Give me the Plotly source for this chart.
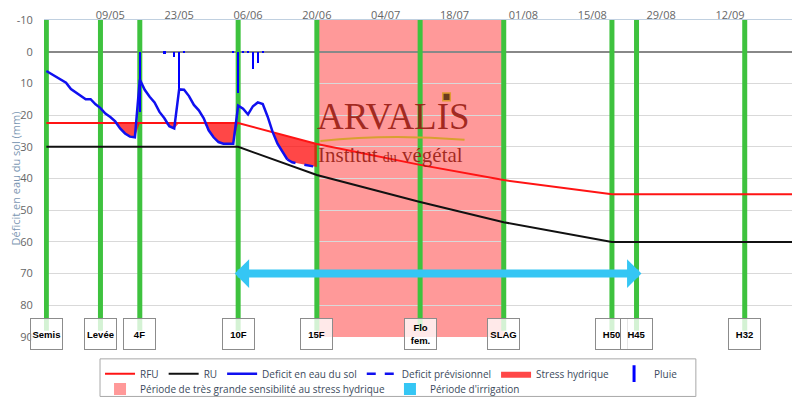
import numpy as np
import pandas as pd
import plotly.graph_objects as go

# ---------------- DATA ----------------
stage_names = ["Semis", "Levée", "4F", "10F", "15F", "Flo<br>fem.", "SLAG", "H50", "H45", "H32"]
stage_dates = ["2015-04-26", "2015-05-07", "2015-05-15", "2015-06-04", "2015-06-20",
               "2015-07-11", "2015-07-28", "2015-08-19", "2015-08-24", "2015-09-15"]

ru_dates = ["2015-04-26", "2015-06-04", "2015-06-20", "2015-07-11", "2015-07-28", "2015-08-19", "2015-09-25"]
ru_values = [30, 30, 38.9, 47.4, 53.8, 60, 60]
rfu_values = [22.5, 22.5, 29.1, 35.7, 40.5, 45, 45]

deficit_start = "2015-04-26"
deficit_values = [6.1, 7.0, 8.0, 8.9, 9.8,                         # 26/04 - 30/04
                  11.8, 12.8, 13.8, 15.0, 15.0, 16.6, 17.8, 19.5,   # 01/05 - 08/05
                  20.6, 22.0, 24.2, 25.8, 26.8, 27.0, 8.8, 12.0,    # 09/05 - 16/05
                  14.2, 16.0, 19.0, 21.0, 23.5, 24.2, 11.9, 12.0,   # 17/05 - 24/05
                  14.0, 16.8, 18.5, 21.0, 24.8, 27.0, 28.5,         # 25/05 - 31/05
                  29.0, 29.0, 29.0, 17.0, 18.0, 19.8, 17.2, 16.0,   # 01/06 - 08/06
                  16.5, 20.5, 25.3, 29.0, 31.4, 34.0]               # 09/06 - 14/06

forecast_start = "2015-06-14"
forecast_values = [34.0, 34.9, 35.2, 35.5, 35.7, 36.0, 36.4]        # 14/06 - 20/06

rain_dates = ["2015-05-15", "2015-05-20", "2015-05-22", "2015-05-23", "2015-05-24",
              "2015-06-03", "2015-06-04", "2015-06-05", "2015-06-06", "2015-06-07",
              "2015-06-08", "2015-06-09"]
rain_values = [19.0, 0.6, 1.6, 12.5, 0.5, 0.5, 13.0, 0.5, 0.5, 5.5, 3.7, 0.5]

sensitive_period = ["2015-06-20", "2015-07-28"]
irrigation_period = ["2015-06-03", "2015-08-25"]
irrigation_level = 70

x_range = ["2015-04-25 12:30", "2015-09-25 05:20"]
y_range = [90, -10]
y_ticks = [-10, 0, 10, 20, 30, 40, 50, 60, 70, 80, 90]
tick_start = "2015-05-09"

# ---------------- STYLE ----------------
C_RFU = "#ff1414"
C_RU = "#111111"
C_DEF = "#1010f0"
C_STRESS = "rgba(255,0,0,0.72)"
C_SENS = "rgba(255,0,0,0.40)"
C_SENS_LEG = "#ff9999"
C_IRR = "#35c6f4"
C_GREEN = "#3ec23e"
FONT = "Open Sans, Liberation Sans, Arial, sans-serif"

def_dates = pd.date_range(deficit_start, periods=len(deficit_values), freq="D")
fc_dates = pd.date_range(forecast_start, periods=len(forecast_values), freq="D")
ru_dt = pd.to_datetime(ru_dates)

# combined deficit for stress computation
all_dates = def_dates.append(fc_dates[1:])
all_vals = np.array(deficit_values + forecast_values[1:])
rfu_at = np.interp(all_dates.asi8, ru_dt.asi8, rfu_values)
upper = np.maximum(all_vals, rfu_at)

fig = go.Figure()

# stress fill (base then upper)
fig.add_trace(go.Scatter(x=all_dates, y=rfu_at, mode="lines", line=dict(width=0),
                         showlegend=False, hoverinfo="skip"))
fig.add_trace(go.Scatter(x=all_dates, y=upper, mode="lines", line=dict(width=0),
                         fill="tonexty", fillcolor=C_STRESS, name="Stress hydrique",
                         legendrank=5))

fig.add_trace(go.Scatter(x=ru_dt, y=ru_values, mode="lines", line=dict(color=C_RU, width=2),
                         name="RU", legendrank=2))
fig.add_trace(go.Scatter(x=ru_dt, y=rfu_values, mode="lines", line=dict(color=C_RFU, width=2),
                         name="RFU", legendrank=1))
fig.add_trace(go.Scatter(x=fc_dates, y=forecast_values, mode="lines",
                         line=dict(color=C_DEF, width=2.5, dash="dash"),
                         name="Deficit prévisionnel", legendrank=4))
fig.add_trace(go.Scatter(x=def_dates, y=deficit_values, mode="lines",
                         line=dict(color=C_DEF, width=2.5),
                         name="Deficit en eau du sol", legendrank=3))
fig.add_trace(go.Bar(x=pd.to_datetime(rain_dates), y=rain_values, base=0,
                     width=0.45 * 86400000, marker=dict(color="#0000ff", line=dict(width=0)),
                     showlegend=False, name="Pluie"))
# legend entries
fig.add_trace(go.Scatter(x=[None], y=[None], mode="markers", name="Pluie", legendrank=6,
                         marker=dict(symbol="line-ns", size=12, line=dict(color="#0000ff", width=3))))
fig.add_trace(go.Scatter(x=[None], y=[None], mode="markers", legendrank=7, legend="legend2",
                         name="Période de très grande sensibilité au stress hydrique",
                         marker=dict(symbol="square", size=12, color=C_SENS_LEG)))
fig.add_trace(go.Scatter(x=[None], y=[None], mode="markers", legendrank=8, legend="legend2",
                         name="Période d'irrigation",
                         marker=dict(symbol="square", size=12, color=C_IRR)))

shapes = [dict(type="rect", xref="x", yref="paper", x0=sensitive_period[0], x1=sensitive_period[1],
               y0=0, y1=1, fillcolor=C_SENS, line=dict(width=0), layer="between")]
for d in stage_dates:
    shapes.append(dict(type="line", xref="x", yref="y", x0=d, x1=d, y0=y_range[1], y1=88,
                       line=dict(color=C_GREEN, width=5), layer="between"))
# logo swoosh and leaf (decoration)
shapes.append(dict(type="path", xref="paper", yref="paper",
                   path="M 0.368,0.618 Q 0.46,0.642 0.560,0.622",
                   line=dict(color="#d9a030", width=2)))
shapes.append(dict(type="rect", xref="paper", yref="paper", x0=0.531, x1=0.541, y0=0.745, y1=0.77,
                   fillcolor="#6b3a1e", line=dict(color="#e09a30", width=1.5)))
# legend frame
shapes.append(dict(type="rect", xref="paper", yref="paper", x0=0.0746, x1=0.868,
                   y0=-0.1875, y1=-0.069, line=dict(color="#a8a8a8", width=1),
                   fillcolor="rgba(0,0,0,0)"))

annotations = []
for name, d in zip(stage_names, stage_dates):
    annotations.append(dict(x=d, y=89.0, xref="x", yref="y", text="<b>" + name + "</b>",
                            showarrow=False, width=31, height=30, borderpad=0,
                            bgcolor="rgba(255,255,255,0.78)", bordercolor="#8c8c8c", borderwidth=1,
                            font=dict(family="Liberation Sans, Arial, sans-serif", size=9.5, color="#000"),
                            xanchor="center", yanchor="middle", valign="middle"))
annotations.append(dict(x=irrigation_period[1], y=irrigation_level, ax=irrigation_period[0],
                        ay=irrigation_level, xref="x", yref="y", axref="x", ayref="y", text="",
                        showarrow=True, arrowhead=1, startarrowhead=1, arrowside="end+start",
                        arrowsize=0.6, startarrowsize=0.6, arrowwidth=8, arrowcolor=C_IRR))
annotations.append(dict(x=0.465, y=0.695, xref="paper", yref="paper", text="ARVALIS",
                        xanchor="center", yanchor="middle", showarrow=False,
                        font=dict(family="Liberation Serif, DejaVu Serif, serif",
                                  size=37, color="rgba(150,25,15,0.88)")))
annotations.append(dict(x=0.462, y=0.575, xref="paper", yref="paper",
                        xanchor="center", yanchor="middle",
                        text="Institut <span style='font-size:14px'>du</span> végétal",
                        showarrow=False, font=dict(family="Liberation Serif, DejaVu Serif, serif",
                                                   size=21, color="rgba(150,25,15,0.88)")))

legend_common = dict(orientation="h", xanchor="left", yanchor="top", borderwidth=0,
                     bgcolor="rgba(0,0,0,0)", itemwidth=30, tracegroupgap=0,
                     traceorder="normal",
                     font=dict(family=FONT, size=10, color="#3b4a5c"))

# page body adds an 8px margin: the figure is sized so the plot area lands
# where the reference has it
fig.update_layout(
    width=792, height=400,
    margin=dict(l=36, r=5, t=12, b=68),
    paper_bgcolor="white", plot_bgcolor="white",
    font=dict(family=FONT, size=11, color="#666"),
    shapes=shapes, annotations=annotations,
    bargap=0,
    legend=dict(x=0.0746, y=-0.07, **legend_common),
    legend2=dict(x=0.0746, y=-0.118, **legend_common),
    xaxis=dict(type="date", range=x_range, side="top", tick0=tick_start, dtick=14 * 86400000,
               tickformat="%d/%m", showgrid=False, showline=True, linecolor="#c0d0e0",
               ticks="", zeroline=False, ticklabelstandoff=-4,
               automargin=False, tickfont=dict(size=11, color="#666")),
    yaxis=dict(range=y_range, tickvals=y_ticks, ticktext=[str(v) for v in y_ticks],
               showgrid=True, gridcolor="#d9d9d9",
               zeroline=True, zerolinecolor="#888888", zerolinewidth=1.5,
               ticks="outside", ticklen=8, tickcolor="rgba(0,0,0,0)", showline=False,
               automargin=False, tickfont=dict(size=11, color="#666"),
               title=dict(text="Déficit en eau du sol (mm)", standoff=1,
                          font=dict(size=11, color="#7c97b3"))),
)

fig.write_html("out.html")
